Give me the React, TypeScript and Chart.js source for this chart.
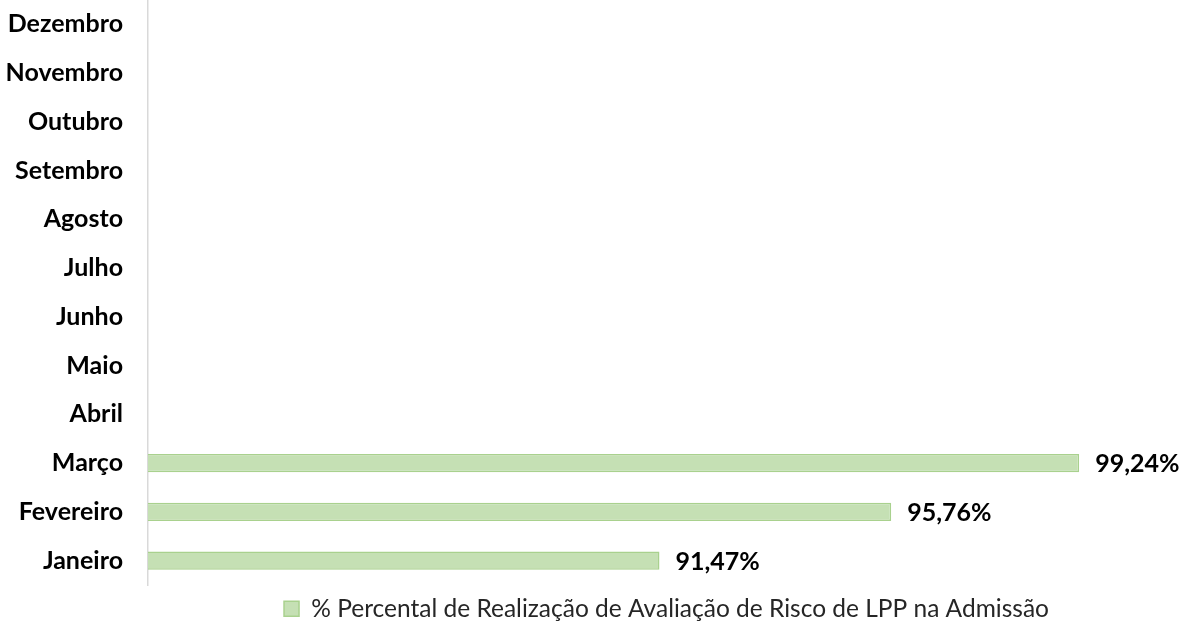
import React, { useEffect, useRef } from "react";
import { Chart, registerables } from "chart.js";

Chart.register(...registerables);

const months = [
  "Janeiro", "Fevereiro", "Março", "Abril", "Maio", "Junho",
  "Julho", "Agosto", "Setembro", "Outubro", "Novembro", "Dezembro",
];
const percentValues: (number | null)[] = [91.47, 95.76, 99.24, null, null, null, null, null, null, null, null, null];
const seriesLabel = "% Percental de Realização de Avaliação de Risco de LPP na Admissão";

const FILL = "#c5e0b4";
const BORDER = "#a9d18e";
const FONT = "Lato, 'Open Sans', sans-serif";

const valueLabels = {
  id: "valueLabels",
  afterDatasetsDraw(chart: any) {
    const ctx = chart.ctx;
    const meta = chart.getDatasetMeta(0);
    ctx.save();
    ctx.font = `bold 25px ${FONT}`;
    ctx.fillStyle = "#000";
    ctx.textAlign = "left";
    ctx.textBaseline = "middle";
    meta.data.forEach((el: any, i: number) => {
      const v = chart.data.datasets[0].data[i];
      if (v === null || v === undefined) return;
      const txt = v.toFixed(2).replace(".", ",") + "%";
      ctx.fillText(txt, el.x + 16, el.y + 1);
    });
    ctx.restore();
  },
};

export default function App() {
  const ref = useRef<HTMLCanvasElement | null>(null);
  useEffect(() => {
    document.body.style.margin = "0";
    if (!ref.current) return;
    const chart = new Chart(ref.current, {
      type: "bar",
      data: {
        labels: months,
        datasets: [
          {
            label: seriesLabel,
            data: percentValues,
            backgroundColor: FILL,
            borderColor: BORDER,
            borderWidth: 1.5,
            borderSkipped: false,
            barPercentage: 0.37,
            categoryPercentage: 1,
          },
        ],
      },
      options: {
        indexAxis: "y",
        animation: false,
        responsive: true,
        maintainAspectRatio: false,
        layout: { padding: { left: 0, right: 0, top: 0, bottom: -10 } },
        scales: {
          x: {
            display: false,
            min: 82,
            max: 101.2,
          },
          y: {
            reverse: true,
            grid: { display: false, drawTicks: false },
            border: { display: true, color: "#d9d9d9", width: 1.5 },
            ticks: {
              padding: 25,
              color: "#000",
              font: { family: FONT, size: 25, weight: "bold" },
            },
            afterFit(scale: any) {
              scale.width = 148;
              scale.paddingTop = 0;
              scale.paddingBottom = 0;
            },
          },
        },
        plugins: {
          legend: {
            position: "bottom",
            fullSize: false,
            labels: {
              boxWidth: 15,
              boxHeight: 15,
              padding: 11.5,
              color: "#262626",
              font: { family: FONT, size: 24.5 },
            },
          },
          tooltip: { enabled: false },
        },
      },
      plugins: [valueLabels],
    });
    return () => chart.destroy();
  }, []);
  return (
    <div style={{ position: "relative", width: 1185, height: 621 }}>
      <canvas ref={ref} />
    </div>
  );
}
